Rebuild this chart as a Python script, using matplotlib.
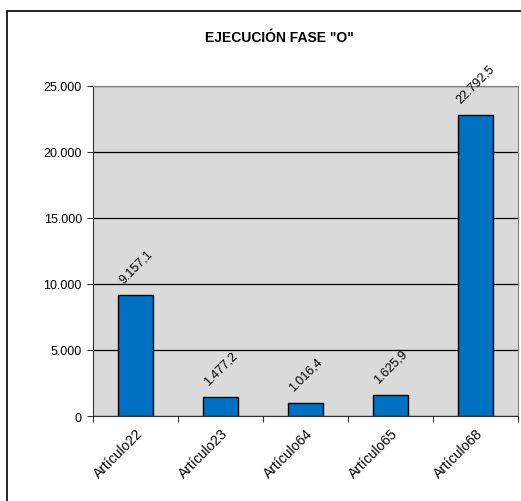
import matplotlib.pyplot as plt
from matplotlib.patches import Rectangle
from matplotlib.ticker import FuncFormatter, FixedLocator

plt.rcParams['font.family'] = ['Liberation Sans', 'DejaVu Sans']

categorias = ['Artículo22', 'Artículo23', 'Artículo64', 'Artículo65', 'Artículo68']
valores = [9157.1, 1477.2, 1016.4, 1625.9, 22792.5]
titulo = 'EJECUCIÓN FASE "O"'


def miles(v, pos=None):
    return f'{v:,.0f}'.replace(',', '.')


def decimal(v):
    return f'{v:,.1f}'.replace(',', 'X').replace('.', ',').replace('X', '.')


fig = plt.figure(figsize=(5.21, 5.02), dpi=100)
ax = fig.add_axes([93 / 521, 1 - 417 / 502, 425 / 521, 330 / 502])

# marco exterior del grafico
fig.patches.append(Rectangle((7 / 521, -0.02), 1.0, 1 - 12 / 502 + 0.02,
                             transform=fig.transFigure, fill=False,
                             edgecolor='black', linewidth=1.2))

x = list(range(len(categorias)))
ax.set_facecolor('#DADADA')
ax.bar(x, valores, width=0.41, color='#0070C0', edgecolor='black', linewidth=1, zorder=3)

for xi, v in zip(x, valores):
    ax.annotate(decimal(v), (xi, v), xytext=(0, 7), textcoords='offset points',
                ha='center', va='bottom', rotation=45, fontsize=9)

ax.set_xlim(-0.5, len(categorias) - 0.5)
ax.set_ylim(0, 25000)
ax.set_yticks(range(0, 25001, 5000))
ax.yaxis.set_major_formatter(FuncFormatter(miles))
ax.grid(axis='y', color='black', linewidth=0.9, zorder=1)

ax.xaxis.set_major_locator(FixedLocator([i - 0.5 for i in range(len(categorias) + 1)]))
ax.xaxis.set_major_formatter(FuncFormatter(lambda v, p: ''))
ax.set_xticks(x, minor=True)
ax.set_xticklabels(categorias, minor=True, rotation=45, ha='right', rotation_mode='anchor')
ax.tick_params(axis='x', which='minor', length=0, labelsize=10, pad=7)
ax.tick_params(axis='x', which='major', length=4, color='#333333')
ax.tick_params(axis='y', length=4, labelsize=9, color='#333333', pad=4)

for lado in ['top', 'right']:
    ax.spines[lado].set_color('#808080')
for lado in ['left', 'bottom']:
    ax.spines[lado].set_color('#333333')

fig.text(279 / 521, 1 - 38 / 502, titulo, ha='center', va='center',
         fontsize=10, fontweight='bold')

fig.savefig('out.png', dpi=100)
